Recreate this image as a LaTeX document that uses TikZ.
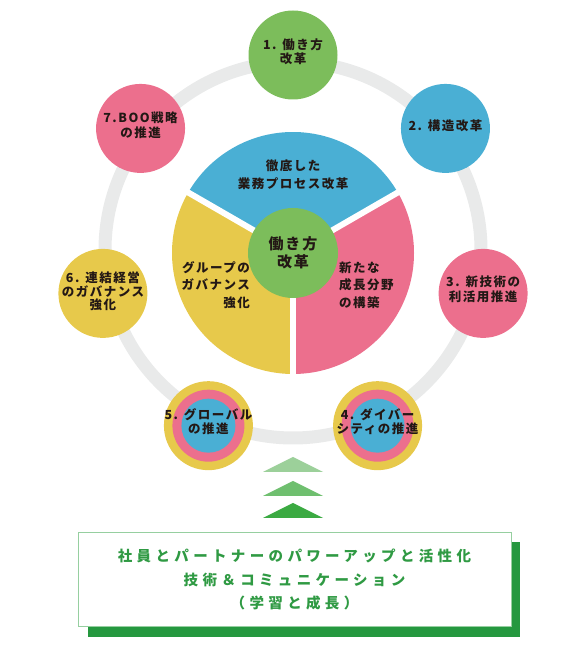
\documentclass[tikz,border=0pt]{standalone}
\usepackage{fontspec}
\newfontfamily\jp[LetterSpace=12]{Noto Sans CJK JP}
\newfontfamily\jpwide[LetterSpace=30]{Noto Sans CJK JP}

\definecolor{leafgreen}{HTML}{7CBD5B}
\definecolor{skyblue}{HTML}{4AAFD4}
\definecolor{rosepink}{HTML}{EC6F8D}
\definecolor{mustard}{HTML}{E7C94B}
\definecolor{ringgray}{HTML}{E9EAEA}
\definecolor{deepgreen}{HTML}{25983F}
\definecolor{textgreen}{HTML}{2F9A43}
\definecolor{edgegreen}{HTML}{96CFA0}
\definecolor{inkblack}{HTML}{231815}
\definecolor{arrowlight}{HTML}{9CD09A}
\definecolor{arrowmid}{HTML}{6FBF6F}
\definecolor{arrowdark}{HTML}{3BAA42}

\tikzstyle{topic} = [circle, minimum size = 89pt, inner sep = 0pt]
\tikzstyle{topictext} = [inner sep = 0pt, align = center, text = inkblack, 
	font = \jp\bfseries\fontsize{12.5}{14.5}\selectfont]
\tikzstyle{sector} = [inner sep = 0pt, text = inkblack, 
	font = \jp\bfseries\fontsize{12.5}{17.5}\selectfont]
\tikzstyle{gap} = [white, line width = 6pt]

\begin{document}
\begin{tikzpicture}[x = 1pt, y = 1pt]

\useasboundingbox (0,0) rectangle (586,650);

\coordinate (ringc) at (293,400);
\coordinate (hubc) at (293,397);

% outer ring
\draw [ringgray, line width = 13pt] (ringc) circle (188pt);

% three sectors
\fill [skyblue] (hubc) -- ++(30:121pt) arc (30:150:121pt) -- cycle;
\fill [mustard] (hubc) -- ++(150:121pt) arc (150:270:121pt) -- cycle;
\fill [rosepink] (hubc) -- ++(270:121pt) arc (270:390:121pt) -- cycle;
\draw [gap] (hubc) -- ++(30:125pt);
\draw [gap] (hubc) -- ++(150:125pt);
\draw [gap] (hubc) -- ++(270:125pt);

\node (hub) [topic, minimum size = 90pt, fill = leafgreen] at (hubc) {};
\node (hubtext) [topictext, font = \jp\bfseries\fontsize{15}{18}\selectfont] 
	at (hubc) {働き方\\改革};

\node (sectortop) [sector, align = center] at (293,475) {徹底した\\業務プロセス改革};
\node (sectorleft) [sector, align = right, anchor = east] at (250,365) 
	{グループの\\ガバナンス\\強化};
\node (sectorright) [sector, align = left, anchor = west] at (339,365) 
	{新たな\\成長分野\\の構築};

% seven topics on the ring
\node (topic1) [topic, fill = leafgreen] at ([shift = {(90:195pt)}]ringc) {};
\node (topic2) [topic, fill = skyblue] at ([shift = {(38.57:195pt)}]ringc) {};
\node (topic3) [topic, fill = rosepink] at ([shift = {(-12.86:195pt)}]ringc) {};
\node (topic4) [topic, fill = mustard] at ([shift = {(-64.29:195pt)}]ringc) {};
\node (topic5) [topic, fill = mustard] at ([shift = {(-115.71:195pt)}]ringc) {};
\node (topic6) [topic, fill = mustard] at ([shift = {(-167.14:195pt)}]ringc) {};
\node (topic7) [topic, fill = rosepink] at ([shift = {(141.43:195pt)}]ringc) {};

\fill [rosepink] (topic4) circle (36pt);
\fill [skyblue] (topic4) circle (27pt);
\fill [rosepink] (topic5) circle (36pt);
\fill [skyblue] (topic5) circle (27pt);

\node (label1) [topictext] at ([yshift = 3pt]topic1) {1. 働き方\\改革};
\node (label2) [topictext] at ([yshift = 3pt]topic2) {2. 構造改革};
\node (label3) [topictext] at ([yshift = 4pt]topic3) {3. 新技術の\\利活用推進};
\node (label4) [topictext] at ([yshift = 4pt]topic4) {4. ダイバー\\シティの推進};
\node (label5) [topictext, font = \jp\bfseries\fontsize{12.5}{14.5}\selectfont] 
	at ([yshift = 4pt]topic5) {5. グローバル\\の推進};
\node (label6) [topictext, font = \jp\bfseries\fontsize{12.5}{13.5}\selectfont] 
	at ([yshift = 2pt]topic6) {6. 連結経営\\のガバナンス\\強化};
\node (label7) [topictext] at ([yshift = 3pt]topic7) {7.BOO戦略\\の推進};

% rising chevrons
\fill [arrowlight] (263,178) -- (323,178) -- (293,193) -- cycle;
\fill [arrowmid] (263,154) -- (323,154) -- (293,169) -- cycle;
\fill [arrowdark] (263,132) -- (323,132) -- (293,147) -- cycle;

% base box
\fill [deepgreen] (88,13) rectangle (520,108);
\node (base) [draw = edgegreen, fill = white, line width = 1pt, 
	minimum width = 433pt, minimum height = 94pt, align = center, 
	text = textgreen, font = \jpwide\bfseries\fontsize{14.5}{23.5}\selectfont] 
	at (294.5,70) 
	{社員とパートナーのパワーアップと活性化\\技術＆コミュニケーション\\（学習と成長）};

\end{tikzpicture}
\end{document}
